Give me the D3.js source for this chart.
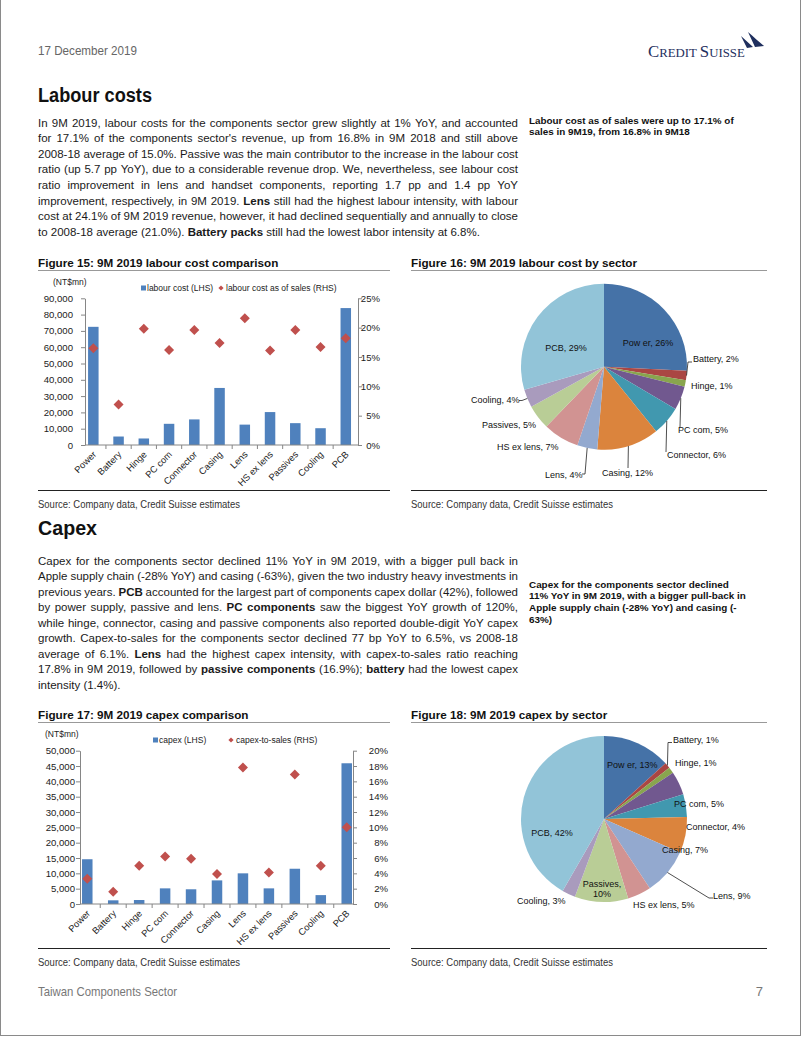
<!DOCTYPE html>
<html><head><meta charset="utf-8">
<script src="https://cdn.jsdelivr.net/npm/d3@7"></script>
<style>
body{margin:0;background:#fff}
svg{display:block}
text{font-family:"Liberation Sans",Arial,sans-serif}
</style>
</head><body>
<svg id="page" width="802" height="1037"></svg>
<script>
// ---------------- DATA ----------------
const categories = ["Power","Battery","Hinge","PC com","Connector","Casing","Lens","HS ex lens","Passives","Cooling","PCB"];
const labourCost = [72500,5200,4000,13000,15700,35000,12500,20200,13400,10300,84000];
const labourRatio = [16.5,6.9,19.8,16.2,19.6,17.4,21.6,16.1,19.6,16.7,18.2];
const capex = [14600,1200,1300,5100,4800,7700,10000,5100,11500,2900,45900];
const capexRatio = [3.3,1.6,5.0,6.2,5.9,3.9,17.8,4.1,16.9,5.0,10.0];
const labourShare = [25.8,1.8,1.3,4.6,5.7,12.1,3.9,7.0,4.8,3.5,29.5];
const labourShareLabel = [26,2,1,5,6,12,4,7,5,4,29];
const capexShare = [13.3,1.1,1.2,4.6,4.4,7.0,9.1,4.6,10.4,2.6,41.7];
const capexShareLabel = [13,1,1,5,4,7,9,5,10,3,42];
const labourTicks = [0,10000,20000,30000,40000,50000,60000,70000,80000,90000];
const labourPctTicks = [0,5,10,15,20,25];
const capexTicks = [0,5000,10000,15000,20000,25000,30000,35000,40000,45000,50000];
const capexPctTicks = [0,2,4,6,8,10,12,14,16,18,20];

const labourText = [
"In 9M 2019, labour costs for the components sector grew slightly at 1% YoY, and accounted",
"for 17.1% of the components sector's revenue, up from 16.8% in 9M 2018 and still above",
"2008-18 average of 15.0%. Passive was the main contributor to the increase in the labour cost",
"ratio (up 5.7 pp YoY), due to a considerable revenue drop. We, nevertheless, see labour cost",
"ratio improvement in lens and handset components, reporting 1.7 pp and 1.4 pp YoY",
"improvement, respectively, in 9M 2019. **Lens** still had the highest labour intensity, with labour",
"cost at 24.1% of 9M 2019 revenue, however, it had declined sequentially and annually to close",
"to 2008-18 average (21.0%). **Battery packs** still had the lowest labor intensity at 6.8%."
];
const capexText = [
"Capex for the components sector declined 11% YoY in 9M 2019, with a bigger pull back in",
"Apple supply chain (-28% YoY) and casing (-63%), given the two industry heavy investments in",
"previous years. **PCB** accounted for the largest part of components capex dollar (42%), followed",
"by power supply, passive and lens. **PC components** saw the biggest YoY growth of 120%,",
"while hinge, connector, casing and passive components also reported double-digit YoY capex",
"growth. Capex-to-sales for the components sector declined 77 bp YoY to 6.5%, vs 2008-18",
"average of 6.1%. **Lens** had the highest capex intensity, with capex-to-sales ratio reaching",
"17.8% in 9M 2019, followed by **passive components** (16.9%); **battery** had the lowest capex",
"intensity (1.4%)."
];
const note1 = ["Labour cost as of sales were up to 17.1% of","sales in 9M19, from 16.8% in 9M18"];
const note2 = ["Capex for the components sector declined","11% YoY in 9M 2019, with a bigger pull-back in","Apple supply chain (-28% YoY) and casing (-","63%)"];

// ---------------- STYLE ----------------
const BAR = "#4F81BD", RED = "#C0504D", AX = "#868686", TXT = "#1a1a1a";
const pieColors = ["#4572A7","#AA4643","#89A54E","#71588F","#4198AF","#DB843D","#93A9CF","#D19392","#B9CD96","#A99BBD","#92C4D8"];

const svg = d3.select("#page");
svg.append("rect").attr("width",802).attr("height",1037).attr("fill","#fff");
svg.append("rect").attr("x",0.5).attr("y",-2).attr("width",800).attr("height",1037.5)
  .attr("fill","none").attr("stroke","#8a8a8a");

// condensed text helper
function cond(x,y,t,fs,len,fill,anchor){
  const e = svg.append("text").attr("x",x).attr("y",y).attr("font-size",fs).attr("fill",fill).text(t);
  if(anchor) e.attr("text-anchor",anchor);
  if(len) e.attr("textLength",len).attr("lengthAdjust","spacingAndGlyphs");
  return e;
}

// header
cond(38,55,"17 December 2019",13,99,"#666");
const logo = svg.append("text").attr("x",648).attr("y",57).attr("fill","#1f2f5e")
  .style("font-family",'"Liberation Serif",serif');
logo.append("tspan").attr("font-size",16.8).text("C");
logo.append("tspan").attr("font-size",12.8).text("REDIT ");
logo.append("tspan").attr("font-size",16.8).text("S");
logo.append("tspan").attr("font-size",12.8).text("UISSE");
svg.append("path").attr("d","M741,36 L753,47 L747,48 Z M748,32 C754,37 759,42 764,46 L755,47 Z").attr("fill","#1f2f5e");

// headings
function heading(t,y,len){ cond(38,y,t,20,len,"#111").attr("font-weight","bold"); }
heading("Labour costs",102,114);
heading("Capex",535,59);

// justified paragraph
function paragraph(lines,x,width,y0,lh,fs){
  lines.forEach((line,i)=>{
    let bold=false; const words=[];
    line.split(" ").forEach(w=>{
      let t=w, b=bold, end=false;
      if(t.startsWith("**")){t=t.slice(2); b=true; bold=true;}
      if(t.endsWith("**")){t=t.slice(0,-2); end=true;}
      words.push({t,b}); if(end) bold=false;
    });
    const te = svg.append("text").attr("y",y0+i*lh).attr("font-size",fs).attr("fill",TXT);
    words.forEach(w=>{ w.n = te.append("tspan").attr("font-weight",w.b?"bold":null).text(w.t); });
    const widths = words.map(w=>w.n.node().getComputedTextLength());
    const last = i===lines.length-1;
    const gap = last ? fs*0.278 : (width-d3.sum(widths))/(words.length-1);
    let cx=x; words.forEach((w,k)=>{ w.n.attr("x",cx); cx+=widths[k]+gap; });
  });
}
paragraph(labourText,38,480,126.5,15.65,11.5);
paragraph(capexText,38,480,565,15.45,11.5);

function note(lines,y0){
  lines.forEach((l,i)=>svg.append("text").attr("x",529).attr("y",y0+i*11.8).attr("font-size",9.9)
    .attr("font-weight","bold").attr("fill","#111").text(l));
}
note(note1,123.5);
note(note2,587.5);

// figure titles & rules
function figTitle(t,x,x2,y){
  svg.append("text").attr("x",x).attr("y",y).attr("font-size",11.7).attr("font-weight","bold").attr("fill","#111").text(t);
  svg.append("line").attr("x1",x).attr("x2",x2).attr("y1",y+4).attr("y2",y+4).attr("stroke","#999").attr("stroke-width",1);
}
figTitle("Figure 15: 9M 2019 labour cost comparison",38,390,266.5);
figTitle("Figure 16: 9M 2019 labour cost by sector",411,767,266.5);
figTitle("Figure 17: 9M 2019 capex comparison",38,390,718.5);
figTitle("Figure 18: 9M 2019 capex by sector",411,767,718.5);

function source(x,x2,y){
  svg.append("line").attr("x1",x).attr("x2",x2).attr("y1",y).attr("y2",y).attr("stroke","#222").attr("stroke-width",1);
  cond(x,y+17,"Source: Company data, Credit Suisse estimates",10.8,202,"#333");
}
source(38,390,490.5); source(411,767,490.5);
source(38,390,948.5); source(411,767,948.5);

// footer
cond(38,996,"Taiwan Components Sector",13,139,"#777");
cond(763,996,"7",13,null,"#777","end");

// ---------------- BAR + SCATTER ----------------
function barChart(c){
  const g = svg.append("g");
  const x = d3.scaleBand().domain(categories).range(c.band);
  const y = d3.scaleLinear().domain([0,c.yMax]).range([c.bottom,c.top]);
  const y2 = d3.scaleLinear().domain([0,c.pMax]).range([c.bottom,c.top]);
  const cx = k => x(k)+x.bandwidth()/2;
  g.selectAll("rect.bar").data(c.values).join("rect").attr("class","bar")
    .attr("x",(d,i)=>cx(categories[i])-c.bw/2).attr("width",c.bw)
    .attr("y",d=>y(d)).attr("height",d=>c.bottom-y(d)).attr("fill",BAR);
  const la = g.append("g").attr("transform",`translate(${c.left},0)`)
    .call(d3.axisLeft(y).tickValues(c.yTicks).tickFormat(d3.format(",")).tickSize(4).tickSizeOuter(0).tickPadding(c.lpad));
  const ra = g.append("g").attr("transform",`translate(${c.right},0)`)
    .call(d3.axisRight(y2).tickValues(c.pTicks).tickFormat(d=>d+"%").tickSize(4).tickSizeOuter(0));
  ra.selectAll("text").attr("text-anchor","end").attr("x",c.rEnd-c.right);
  [la,ra].forEach(a=>{
    a.attr("font-family",null).attr("font-size",null);
    a.selectAll("path,line").attr("stroke",AX);
    a.selectAll("text").attr("font-size",9.6).attr("fill","#222");
  });
  g.append("line").attr("x1",c.left).attr("x2",c.right).attr("y1",c.bottom).attr("y2",c.bottom).attr("stroke",AX);
  g.selectAll("line.xt").data(categories.slice(1)).join("line").attr("class","xt")
    .attr("x1",d=>x(d)).attr("x2",d=>x(d)).attr("y1",c.bottom).attr("y2",c.bottom+4).attr("stroke",AX);
  g.selectAll("text.xl").data(categories).join("text").attr("class","xl")
    .attr("text-anchor","end").attr("font-size",9.3).attr("fill","#222")
    .attr("transform",d=>`translate(${cx(d)+3.5},${c.bottom+10}) rotate(-45)`).text(d=>d);
  g.selectAll("path.dia").data(c.ratios).join("path").attr("class","dia")
    .attr("d","M0,-5L5,0L0,5L-5,0Z").attr("fill",RED)
    .attr("transform",(d,i)=>`translate(${cx(categories[i])},${y2(d)})`);
  g.append("text").attr("x",c.unit[0]).attr("y",c.unit[1]).attr("font-size",8.5).attr("fill","#222").text("(NT$mn)");
  const L = c.legend;
  g.append("rect").attr("x",L.x1).attr("y",L.y-5.5).attr("width",5).attr("height",5).attr("fill",BAR);
  g.append("text").attr("x",L.x1+6).attr("y",L.y).attr("font-size",8.5).attr("fill","#222").text(L.t1);
  g.append("path").attr("d","M0,-2.6L2.6,0L0,2.6L-2.6,0Z").attr("fill",RED).attr("transform",`translate(${L.x2},${L.y-3})`);
  g.append("text").attr("x",L.x2+5).attr("y",L.y).attr("font-size",8.5).attr("fill","#222").text(L.t2);
}
barChart({values:labourCost,ratios:labourRatio,yMax:90000,yTicks:labourTicks,pMax:25,pTicks:labourPctTicks,
  left:85,right:358,band:[80.7,358.4],top:298.3,bottom:445,bw:10.5,lpad:8,rEnd:380,
  unit:[53,285],legend:{x1:141,x2:221,y:291,t1:"labour cost (LHS)",t2:"labour cost as of sales (RHS)"}});
barChart({values:capex,ratios:capexRatio,yMax:50000,yTicks:capexTicks,pMax:20,pTicks:capexPctTicks,
  left:80,right:353,band:[74.3,359.7],top:750.7,bottom:904,bw:10.5,lpad:1,rEnd:388,
  unit:[45,737],legend:{x1:153,x2:231,y:743,t1:"capex (LHS)",t2:"capex-to-sales (RHS)"}});

// ---------------- PIES ----------------
const pieName = n => n==="Power" ? "Pow er" : n;
function pieChart(shares,labels,cx,cy,r,layout){
  const g = svg.append("g");
  const arcs = d3.pie().sort(null).value(d=>d)(shares);
  const arc = d3.arc().innerRadius(0).outerRadius(r);
  g.selectAll("path").data(arcs).join("path").attr("d",arc).attr("fill",(d,i)=>pieColors[i])
    .attr("transform",`translate(${cx},${cy})`);
  arcs.forEach((a,i)=>{
    const L = layout[i]; const txt = `${pieName(categories[i])}, ${labels[i]}%`;
    if(L.leader){
      const m=(a.startAngle+a.endAngle)/2;
      const pts=[[cx+r*Math.sin(m),cy-r*Math.cos(m)]].concat(L.leader);
      g.append("path").attr("d",d3.line()(pts)).attr("fill","none").attr("stroke","#222").attr("stroke-width",0.8);
    }
    const t = g.append("text").attr("x",L.x).attr("y",L.y).attr("font-size",9).attr("fill","#111")
      .attr("text-anchor",L.a||"start");
    if(L.wrap){
      const parts = txt.split(" ");
      t.append("tspan").attr("x",L.x).text(parts.slice(0,-1).join(" "));
      t.append("tspan").attr("x",L.x).attr("dy",10).text(parts[parts.length-1]);
    } else t.text(txt);
  });
}
pieChart(labourShare,labourShareLabel,604,366.7,83,[
  {x:648,y:345.5,a:"middle"},
  {x:693,y:362,leader:[[688,362],[692,362]]},
  {x:691,y:389},
  {x:678,y:433,leader:[[680,427]]},
  {x:667,y:458,leader:[[666,452]]},
  {x:602,y:475.5,leader:[[628,468]]},
  {x:545,y:477.5,leader:[[585,474],[582,474]]},
  {x:497,y:450},
  {x:482,y:428},
  {x:471,y:403,leader:[[522,400.5],[519,400.5]]},
  {x:566,y:351,a:"middle"}
]);
pieChart(capexShare,capexShareLabel,604,819,83,[
  {x:607,y:768},
  {x:673,y:743,leader:[[668,742.5],[672,742.5]]},
  {x:675,y:765.5},
  {x:674,y:807},
  {x:686,y:830},
  {x:662,y:853},
  {x:713,y:899,leader:[[709,898],[713,898]]},
  {x:633,y:907.5},
  {x:602,y:886.5,a:"middle",wrap:true},
  {x:517,y:904},
  {x:552,y:836,a:"middle"}
]);
</script>
</body></html>
